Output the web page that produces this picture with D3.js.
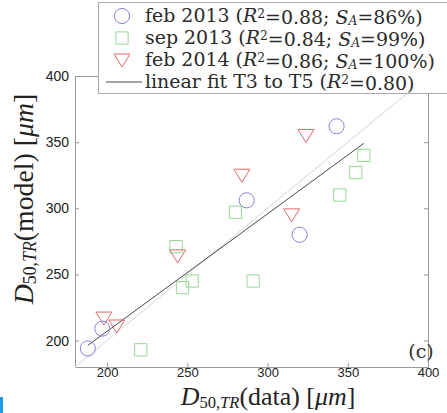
<!DOCTYPE html>
<html>
<head>
<meta charset="utf-8">
<script src="https://cdn.jsdelivr.net/npm/d3@7"></script>
<style>
  body { margin: 0; background: #fff; }
  svg { display: block; }
</style>
</head>
<body>
<div id="chart"></div>
<script>
// Data: D50,TR data vs model [um]
const feb2013 = [[188, 194], [197, 209], [287, 306], [320, 280], [343, 362]];
const sep2013 = [[221, 193], [243, 271], [247, 240], [253, 245], [280, 297], [291, 245], [345, 310], [355, 327], [360, 340]];
const feb2014 = [[198, 217], [206, 211], [244, 264], [284, 325], [315, 295], [324, 355]];
const fitRange = [188, 360];
const fitSlope = 0.888;
const fitIntercept = 29.4;
const xTicks = [200, 250, 300, 350, 400];
const yTicks = [200, 250, 300, 350, 400];

const colors = {
    feb2013: "#8484dc",
    sep2013: "#96d896",
    feb2014: "#e06a6a",
    axis: "#999"
};

const W = 447, H = 413;
const margin = { top: 76, right: 19, bottom: 46, left: 75 };
const width = W - margin.left - margin.right;
const height = H - margin.top - margin.bottom;

const svg = d3.select("#chart").append("svg")
    .attr("width", W)
    .attr("height", H);

const g = svg.append("g")
    .attr("transform", `translate(${margin.left},${margin.top})`);

const x = d3.scaleLinear().domain([180, 400]).range([0, width]);
const y = d3.scaleLinear().domain([180, 400]).range([height, 0]);

// axes, ticks point inward, box on all sides
const tickLen = 4;
const axisFont = "'Liberation Sans', Arial, sans-serif";

const xAxisG = g.append("g")
    .attr("transform", `translate(0,${height})`)
    .call(d3.axisBottom(x).tickValues(xTicks).tickSizeInner(-tickLen).tickSizeOuter(0).tickPadding(1));
g.append("g")
    .call(d3.axisLeft(y).tickValues(yTicks).tickSizeInner(-tickLen).tickSizeOuter(0).tickPadding(6));
g.append("g")
    .attr("transform", `translate(${width},0)`)
    .call(d3.axisRight(y).tickValues(yTicks).tickSizeInner(-tickLen).tickSizeOuter(0).tickFormat(""));
g.append("g")
    .call(d3.axisTop(x).tickValues(xTicks).tickSizeInner(-tickLen).tickSizeOuter(0).tickFormat(""));

g.selectAll(".domain, .tick line").attr("stroke", colors.axis);
g.selectAll(".tick text")
    .attr("fill", "#222")
    .style("font-family", axisFont)
    .style("font-size", "14px");
xAxisG.selectAll(".tick text").style("font-size", "13px");

// 1:1 reference line (faint)
g.append("line")
    .attr("x1", x(180)).attr("y1", y(180))
    .attr("x2", x(400)).attr("y2", y(400))
    .attr("stroke", "#e4e4e4")
    .attr("stroke-width", 1.2);

// linear fit
g.append("line")
    .attr("x1", x(fitRange[0])).attr("y1", y(fitSlope * fitRange[0] + fitIntercept))
    .attr("x2", x(fitRange[1])).attr("y2", y(fitSlope * fitRange[1] + fitIntercept))
    .attr("stroke", "#333")
    .attr("stroke-width", 0.9);

// markers
const circle = d3.symbol().type(d3.symbolCircle).size(180);
const square = d3.symbol().type(d3.symbolSquare).size(150);
const tri = "M-8,-6L8,-6L0,7Z";

function drawSeries(data, path, color) {
    g.selectAll(null)
        .data(data)
        .enter()
        .append("path")
        .attr("transform", d => `translate(${x(d[0])},${y(d[1])})`)
        .attr("d", path)
        .attr("fill", "none")
        .attr("stroke", color)
        .attr("stroke-width", 1);
}
drawSeries(sep2013, square(), colors.sep2013);
drawSeries(feb2014, tri, colors.feb2014);
drawSeries(feb2013, circle(), colors.feb2013);

const serif = "'DejaVu Serif', 'Liberation Serif', serif";
const serif2 = "'Liberation Serif', 'DejaVu Serif', serif";

// scale a text's font so that its width matches the one in the figure
function fitWidth(sel, target) {
    const w = sel.node().getBBox().width;
    const fs = parseFloat(sel.style("font-size"));
    sel.style("font-size", (fs * target / w) + "px");
}

// panel label
g.append("text")
    .attr("x", width - 7)
    .attr("y", height - 9)
    .attr("text-anchor", "middle")
    .style("font-family", serif)
    .style("font-size", "19px")
    .attr("fill", "#333")
    .text("(c)");

function mathLabel(sel, word) {
    sel.append("tspan").style("font-style", "italic").text("D");
    sel.append("tspan").attr("dy", "0.17em").style("font-size", "0.64em").text("50,");
    sel.append("tspan").style("font-size", "0.64em").style("font-style", "italic").text("TR");
    sel.append("tspan").attr("dy", "-0.11em").text("(" + word + ") [");
    sel.append("tspan").style("font-style", "italic").text("μm");
    sel.append("tspan").text("]");
}

// axis labels
const xl = svg.append("text")
    .attr("x", 268)
    .attr("y", 405)
    .attr("text-anchor", "middle")
    .style("font-family", serif2)
    .style("font-size", "20px")
    .attr("fill", "#222");
mathLabel(xl, "data");
fitWidth(xl, 176);

const yl = svg.append("text")
    .attr("transform", "translate(33,199) rotate(-90)")
    .attr("text-anchor", "middle")
    .style("font-family", serif2)
    .style("font-size", "20px")
    .attr("fill", "#222");
mathLabel(yl, "model");
fitWidth(yl, 212);

// legend
const legendItems = [
    { name: "feb 2013", r2: "0.88", sa: "86%", kind: "circle", color: colors.feb2013 },
    { name: "sep 2013", r2: "0.84", sa: "99%", kind: "square", color: colors.sep2013 },
    { name: "feb 2014", r2: "0.86", sa: "100%", kind: "tri", color: colors.feb2014 },
    { name: "linear fit T3 to T5", r2: "0.80", sa: null, kind: "line", color: "#333" }
];

const lg = svg.append("g");
lg.append("rect")
    .attr("x", 98.5).attr("y", 2.5)
    .attr("width", 370).attr("height", 91)
    .attr("fill", "#fff")
    .attr("stroke", "#aaa");

let legendSize = null;
legendItems.forEach((d, i) => {
    const cy = 16 + i * 22;
    if (d.kind === "circle") {
        lg.append("path").attr("transform", `translate(122,${cy})`).attr("d", circle())
            .attr("fill", "none").attr("stroke", d.color);
    } else if (d.kind === "square") {
        lg.append("path").attr("transform", `translate(122,${cy})`).attr("d", square())
            .attr("fill", "none").attr("stroke", d.color);
    } else if (d.kind === "tri") {
        lg.append("path").attr("transform", `translate(122,${cy})`).attr("d", tri)
            .attr("fill", "none").attr("stroke", d.color);
    } else {
        lg.append("line").attr("x1", 106).attr("x2", 142).attr("y1", cy).attr("y2", cy)
            .attr("stroke", d.color).attr("stroke-width", 0.9);
    }
    const t = lg.append("text")
        .attr("x", 145)
        .attr("y", cy + 6)
        .style("font-family", serif)
        .style("font-size", legendSize || "18px")
        .attr("fill", "#2a2a2a");
    t.append("tspan").text(d.name + " (");
    t.append("tspan").style("font-style", "italic").text("R");
    t.append("tspan").attr("dy", "-0.3em").style("font-size", "0.65em").text("2");
    if (d.sa) {
        t.append("tspan").attr("dy", "0.3em").text("=" + d.r2 + "; ");
        t.append("tspan").style("font-style", "italic").text("S");
        t.append("tspan").attr("dy", "0.12em").style("font-size", "0.65em").style("font-style", "italic").text("A");
        t.append("tspan").attr("dy", "-0.08em").text("=" + d.sa + ")");
    } else {
        t.append("tspan").attr("dy", "0.3em").text("=" + d.r2 + ")");
    }
    if (i === 0) {
        fitWidth(t, 278);
        legendSize = t.style("font-size");
    }
});

// thin blue strip at the bottom-left edge of the image
svg.append("rect")
    .attr("x", 0).attr("y", 397)
    .attr("width", 3).attr("height", 16)
    .attr("fill", "#1e9be0");
</script>
</body>
</html>
